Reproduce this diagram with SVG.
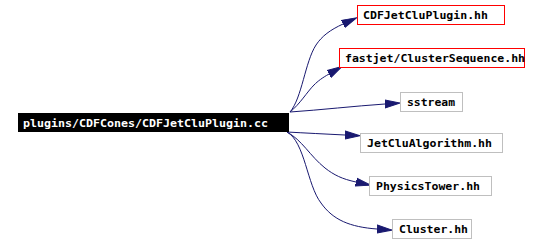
<svg xmlns="http://www.w3.org/2000/svg" width="540" height="244" viewBox="0 0 540 244">
<style>
.box{fill:#ffffff;stroke:#bfbfbf;stroke-width:1}
.red{fill:#ffffff;stroke:#ff0000;stroke-width:1}
.main{fill:#000000;stroke:#000000}
.lbl{font-family:"DejaVu Sans Mono","Liberation Mono",monospace;font-size:11px;font-weight:bold;fill:#000000}
.mlbl{font-family:"DejaVu Sans Mono","Liberation Mono",monospace;font-size:11px;font-weight:bold;fill:#ffffff}
.edge{fill:none;stroke:#191970;stroke-width:1;marker-end:url(#arr)}
</style>
<defs>
<marker id="arr" markerUnits="userSpaceOnUse" markerWidth="16" markerHeight="10" refX="0" refY="5" orient="auto" viewBox="0 0 16 10">
<path d="M0,1 L15,5 L0,9 z" fill="#191970" stroke="#191970" stroke-width="1"/>
</marker>
</defs>
<rect width="540" height="244" fill="#ffffff"/>
<g id="edges">
<path class="edge" d="M290,112 C302,98 305,62 316,45 C322,36 330,30 343,24"/>
<path class="edge" d="M290,112 C300,104 307,92 314,85 C318,81 322,78 329,74"/>
<path class="edge" d="M290,112 C320,110 355,106 385,104"/>
<path class="edge" d="M287,132 C305,133 325,134 345,135"/>
<path class="edge" d="M287,132 C302,140 310,156 325,168 C334,175 342,179 356,182"/>
<path class="edge" d="M287,132 C305,142 307,185 321,203 C333,220 350,227 377,229"/>
</g>
<g id="node-main">
<rect class="main" x="18.5" y="113.5" width="270" height="18"/>
<text class="mlbl" x="23" y="127" textLength="245" lengthAdjust="spacingAndGlyphs">plugins/CDFCones/CDFJetCluPlugin.cc</text>
</g>
<g id="node-cdfjetcluplugin">
<rect class="red" x="357.5" y="5.5" width="147" height="19"/>
<text class="lbl" x="363" y="19" textLength="125" lengthAdjust="spacingAndGlyphs">CDFJetCluPlugin.hh</text>
</g>
<g id="node-clustersequence">
<rect class="red" x="339.5" y="48.5" width="185" height="19"/>
<text class="lbl" x="345" y="62" textLength="180" lengthAdjust="spacingAndGlyphs">fastjet/ClusterSequence.hh</text>
</g>
<g id="node-sstream">
<rect class="box" x="400.5" y="92.5" width="62" height="19"/>
<text class="lbl" x="407" y="106" textLength="48" lengthAdjust="spacingAndGlyphs">sstream</text>
</g>
<g id="node-jetclualgorithm">
<rect class="box" x="360.5" y="133.5" width="142" height="19"/>
<text class="lbl" x="367" y="147" textLength="125" lengthAdjust="spacingAndGlyphs">JetCluAlgorithm.hh</text>
</g>
<g id="node-physicstower">
<rect class="box" x="369.5" y="176.5" width="122" height="19"/>
<text class="lbl" x="376" y="190" textLength="104" lengthAdjust="spacingAndGlyphs">PhysicsTower.hh</text>
</g>
<g id="node-cluster">
<rect class="box" x="392.5" y="219.5" width="79" height="19"/>
<text class="lbl" x="399" y="233" textLength="69" lengthAdjust="spacingAndGlyphs">Cluster.hh</text>
</g>
</svg>
